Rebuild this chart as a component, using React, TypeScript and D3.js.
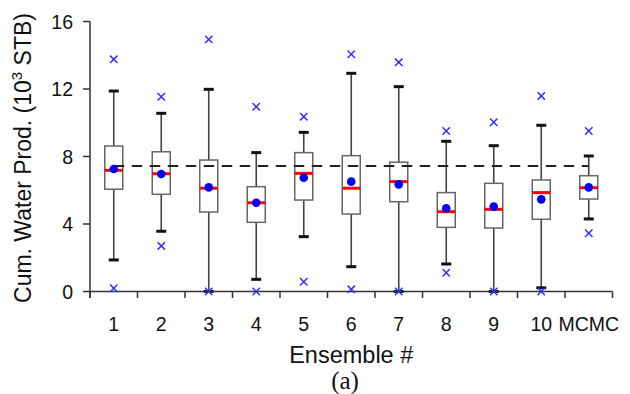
import React from "react";
import * as d3 from "d3";

const categories = ["1", "2", "3", "4", "5", "6", "7", "8", "9", "10", "MCMC"];
const whiskerHigh = [11.88, 10.56, 11.98, 8.23, 9.43, 12.93, 12.14, 8.9, 8.64, 9.85, 8.03];
const q3 = [8.62, 8.28, 7.79, 6.21, 8.23, 8.05, 7.66, 5.86, 6.41, 6.61, 6.86];
const median = [7.18, 6.98, 6.12, 5.26, 7.0, 6.12, 6.51, 4.73, 4.87, 5.86, 6.15];
const mean = [7.26, 6.96, 6.17, 5.26, 6.74, 6.51, 6.35, 4.93, 5.03, 5.46, 6.17];
const q1 = [6.06, 5.76, 4.71, 4.1, 5.42, 4.59, 5.32, 3.8, 3.76, 4.28, 5.48];
const whiskerLow = [1.87, 3.57, 0.0, 0.72, 3.25, 1.47, 0.0, 1.63, 0.0, 0.22, 4.3];
const outlierHigh = [13.76, 11.54, 14.94, 10.95, 10.36, 14.06, 13.58, 9.51, 10.03, 11.59, 9.51];
const outlierLow = [0.19, 2.7, 0.0, 0.0, 0.58, 0.13, 0.0, 1.11, 0.0, 0.0, 3.45];
const yTicks = [0, 4, 8, 12, 16];
const referenceValue = 7.44;

const W = 630;
const H = 394;
const left = 90;
const right = 612.5;
const top = 21.5;
const bottom = 291.5;

export default function App() {
  const x = d3.scaleBand<string>().domain(categories).range([left, right]).padding(0);
  const y = d3.scaleLinear().domain([0, 16]).range([bottom, top]);
  const bw = 18;
  const capW = 10;
  const cx = (c: string) => (x(c) as number) + x.bandwidth() / 2;
  const font = "'Liberation Sans', Arial, Helvetica, sans-serif";
  const axisColor = "#333";
  const boundaries = categories.map((c) => x(c) as number).concat([right]);
  const mk = 3.7;

  return (
    <svg width={W} height={H} style={{ position: "absolute", left: 0, top: 0, background: "#fff" }}>
      <rect x={0} y={0} width={W} height={H} fill="#fff" />
      {/* whiskers */}
      {categories.map((c, i) => (
        <g key={"w" + c}>
          <line x1={cx(c)} x2={cx(c)} y1={y(q3[i])} y2={y(whiskerHigh[i])} stroke="#444" strokeWidth={1.6} />
          <line x1={cx(c)} x2={cx(c)} y1={y(q1[i])} y2={y(whiskerLow[i])} stroke="#444" strokeWidth={1.6} />
          <line x1={cx(c) - capW / 2} x2={cx(c) + capW / 2} y1={y(whiskerHigh[i])} y2={y(whiskerHigh[i])} stroke="#111" strokeWidth={3} />
          <line x1={cx(c) - capW / 2} x2={cx(c) + capW / 2} y1={y(whiskerLow[i])} y2={y(whiskerLow[i])} stroke="#111" strokeWidth={3} />
        </g>
      ))}
      {/* boxes */}
      {categories.map((c, i) => (
        <rect
          key={"b" + c}
          x={cx(c) - bw / 2}
          y={y(q3[i])}
          width={bw}
          height={y(q1[i]) - y(q3[i])}
          fill="#fff"
          stroke="#666"
          strokeWidth={1.5}
        />
      ))}
      {/* medians */}
      {categories.map((c, i) => (
        <line key={"m" + c} x1={cx(c) - bw / 2} x2={cx(c) + bw / 2} y1={y(median[i])} y2={y(median[i])} stroke="#ff0000" strokeWidth={3} />
      ))}
      {/* reference dashed line */}
      <line
        x1={cx(categories[0])}
        x2={cx(categories[categories.length - 1])}
        y1={y(referenceValue)}
        y2={y(referenceValue)}
        stroke="#222"
        strokeWidth={2}
        strokeDasharray="10.5,7.5"
      />
      {/* means */}
      {categories.map((c, i) => (
        <circle key={"mean" + c} cx={cx(c)} cy={y(mean[i])} r={4.3} fill="#0000ff" />
      ))}
      {/* axes */}
      <line x1={left} x2={left} y1={top} y2={bottom + 6.5} stroke={axisColor} strokeWidth={1.5} />
      <line x1={left} x2={right} y1={bottom} y2={bottom} stroke={axisColor} strokeWidth={1.5} />
      {boundaries.map((b, i) => (
        <line key={"xt" + i} x1={b} x2={b} y1={bottom} y2={bottom + 6.5} stroke={axisColor} strokeWidth={1.5} />
      ))}
      {yTicks.map((t) => (
        <g key={"yt" + t}>
          <line x1={left - 7} x2={left} y1={y(t)} y2={y(t)} stroke={axisColor} strokeWidth={1.5} />
          <text x={73} y={y(t)} dy="0.36em" textAnchor="end" fontFamily={font} fontSize={19.5} fill="#111">
            {t}
          </text>
        </g>
      ))}
      {/* outliers */}
      {categories.map((c, i) => (
        <g key={"o" + c} stroke="#3030ff" strokeWidth={1.5}>
          {[outlierHigh[i], outlierLow[i]].map((v, k) => (
            <g key={k}>
              <line x1={cx(c) - mk} x2={cx(c) + mk} y1={y(v) - mk} y2={y(v) + mk} />
              <line x1={cx(c) - mk} x2={cx(c) + mk} y1={y(v) + mk} y2={y(v) - mk} />
            </g>
          ))}
        </g>
      ))}
      {categories.map((c) => (
        <text key={"xl" + c} x={cx(c)} y={330.5} textAnchor="middle" fontFamily={font} fontSize={19.5} fill="#111">
          {c}
        </text>
      ))}
      <text x={(left + right) / 2} y={363.3} textAnchor="middle" fontFamily={font} fontSize={23.5} fill="#111">
        Ensemble #
      </text>
      <text x={345} y={388.5} textAnchor="middle" fontFamily="'Liberation Serif', 'Times New Roman', serif" fontSize={25} fill="#111">
        (a)
      </text>
      <text
        transform={`translate(31,${(top + bottom) / 2 + 1.5}) rotate(-90)`}
        textAnchor="middle"
        fontFamily={font}
        fontSize={23}
        fill="#111"
      >
        Cum. Water Prod. (10
        <tspan fontSize={15} dy={-9}>3</tspan>
        <tspan dy={9}> STB)</tspan>
      </text>
    </svg>
  );
}
